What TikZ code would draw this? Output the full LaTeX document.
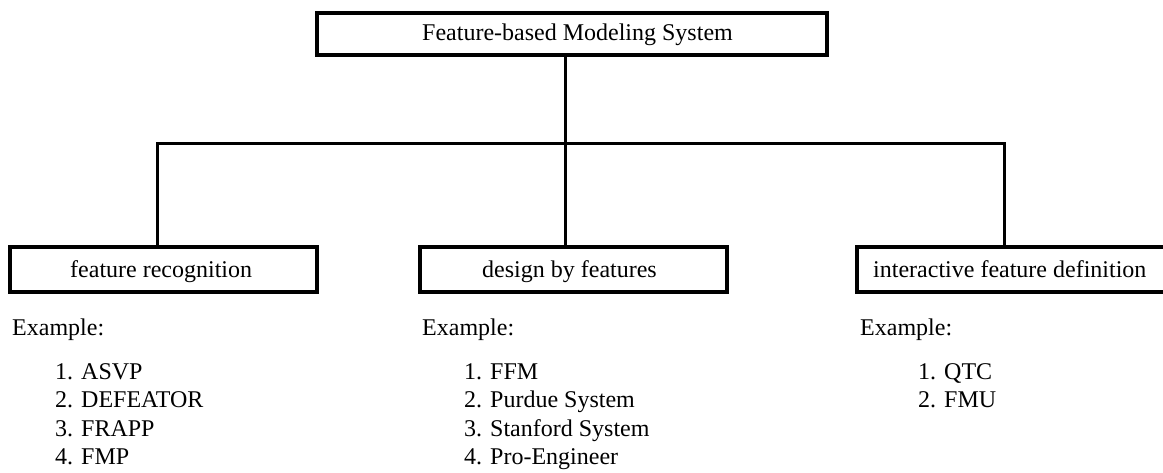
\documentclass[tikz,border=0pt]{standalone}
\usepackage{fontspec}
\setmainfont{Liberation Serif}
\begin{document}
\begin{tikzpicture}[x=1pt,y=-1pt,
  box/.style={draw=black,line width=3.2pt,rectangle,inner sep=0pt,
    font=\fontsize{24}{29}\selectfont},
  conn/.style={draw=black,line width=3pt},
  txt/.style={anchor=base west,inner sep=0pt,font=\fontsize{24}{29}\selectfont}]
\path[use as bounding box,fill=white] (0,0) rectangle (1163,473);
\clip (0,0) rectangle (1163,473);
% boxes
\node[box,minimum width=510pt,minimum height=42pt] (top) at (572,34) {};
\node[txt] at (422,41) {Feature-based Modeling System};
\node[box,minimum width=307pt,minimum height=45pt] (left) at (163.5,269.5) {};
\node[txt] at (70,278) {feature recognition};
\node[box,minimum width=307pt,minimum height=45pt] (mid) at (573.5,269.5) {};
\node[txt] at (482,278) {design by features};
\node[box,minimum width=330pt,minimum height=45pt] (right) at (1022,269.5) {};
\node[txt] at (873,278) {interactive feature definition};
% connectors
\coordinate (cj) at (565,144);
\coordinate (lj) at (157,144);
\coordinate (rj) at (1004,144);
\draw[conn] (top.south -| cj) -- (mid.north -| cj);
\draw[conn] (left.north -| lj) -- (lj) -- (rj) -- (right.north -| rj);
% examples
\node[txt] (exl) at (12,336) {Example:};
\node[txt] (exm) at (422,336) {Example:};
\node[txt] (exr) at (860,336) {Example:};
\node[txt] (l1) at (55,379) {1. ASVP};
\node[txt] (l2) at (55,407.5) {2. DEFEATOR};
\node[txt] (l3) at (55,436) {3. FRAPP};
\node[txt] (l4) at (55,464.5) {4. FMP};
\node[txt] (m1) at (464,379) {1. FFM};
\node[txt] (m2) at (464,407.5) {2. Purdue System};
\node[txt] (m3) at (464,436) {3. Stanford System};
\node[txt] (m4) at (464,464.5) {4. Pro-Engineer};
\node[txt] (r1) at (918,379) {1. QTC};
\node[txt] (r2) at (918,407.5) {2. FMU};
\end{tikzpicture}
\end{document}
